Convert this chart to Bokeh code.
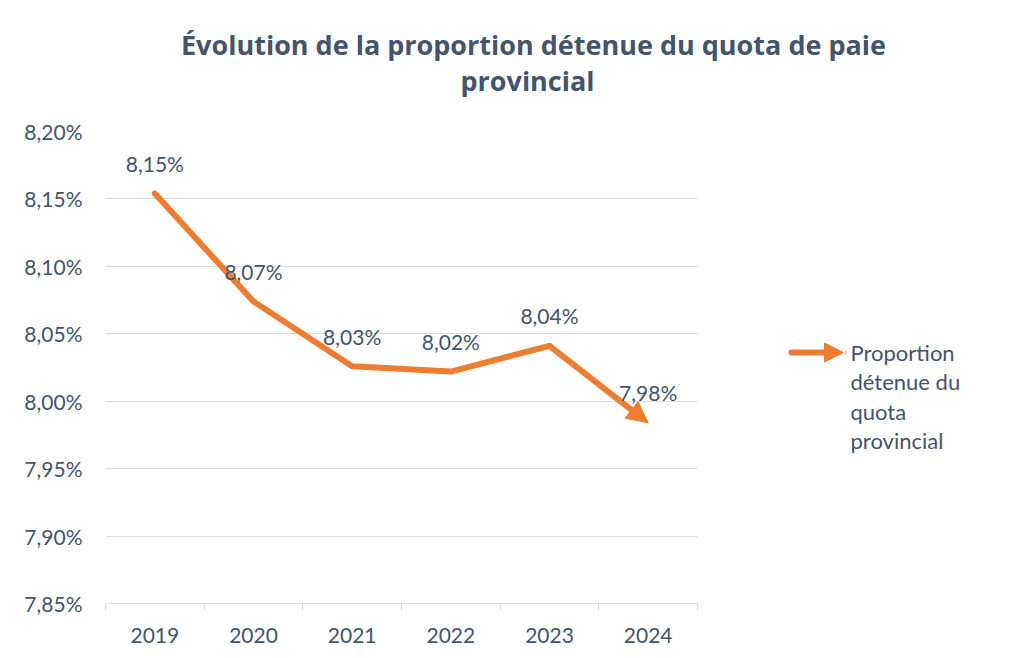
from bokeh.plotting import figure
from bokeh.layouts import column, row
from bokeh.models import (ColumnDataSource, LabelSet, Arrow, NormalHead,
                          FixedTicker, CustomJSTickFormatter, Range1d)
from bokeh.core.properties import value
from bokeh.embed import file_html
from bokeh.resources import INLINE

# ---- data ----
years = ["2019", "2020", "2021", "2022", "2023", "2024"]
proportion = [8.154, 8.074, 8.026, 8.022, 8.041, 7.984]
y_ticks = [7.85, 7.90, 7.95, 8.00, 8.05, 8.10, 8.15, 8.20]
series_name = ["Proportion", "détenue du", "quota", "provincial"]
title_lines = ["Évolution de la proportion détenue du quota de paie", "provincial"]

ORANGE = "#ED7D31"
TEXT = "#44546A"
GRID = "#D9DDE3"
FONT = "Lato"
TITLE_FONT = "Open Sans"

W, H = 1034, 658
TITLE_H = 110                 # height of title strip
MAIN_W = 717                  # width of main chart figure
# plot frame in page pixel coords
FL, FR, FT, FB = 105, 697, 131, 603
YMIN, YMAX = 7.85, 8.20
n = len(years)
xs = list(range(n))


def blank(width, height, x0, x1, y_top, y_bottom):
    f = figure(width=width, height=height, output_backend="svg",
               toolbar_location=None, x_range=Range1d(x0, x1),
               y_range=Range1d(y_bottom, y_top),
               x_axis_location=None, y_axis_location=None,
               min_border=0, min_border_left=0, min_border_right=0,
               min_border_top=0, min_border_bottom=0)
    f.xgrid.grid_line_color = None
    f.ygrid.grid_line_color = None
    f.outline_line_color = None
    f.background_fill_color = "white"
    f.border_fill_color = "white"
    return f


# ---------- title strip (page pixel coordinates, y downward) ----------
tf = blank(W, TITLE_H, 0, W, 0, TITLE_H)
tf.text(x=[533, 527], y=[44, 80], text=title_lines,
        text_align="center", text_baseline="middle",
        text_font=value(TITLE_FONT), text_font_style="bold",
        text_font_size=value("27px"), text_color=TEXT)

# ---------- main chart ----------
MH = H - TITLE_H
p = figure(width=MAIN_W, height=MH, output_backend="svg", toolbar_location=None,
           x_range=Range1d(-0.5, n - 0.5), y_range=Range1d(YMIN, YMAX),
           min_border_left=FL, min_border_right=MAIN_W - FR,
           min_border_top=FT - TITLE_H, min_border_bottom=H - FB)
p.outline_line_color = None
p.background_fill_color = "white"
p.border_fill_color = "white"

# x axis
p.xaxis.ticker = FixedTicker(ticks=xs, minor_ticks=[i - 0.5 for i in range(n + 1)])
p.xaxis.major_label_overrides = {i: years[i] for i in xs}
p.xaxis.major_tick_line_color = None
p.xaxis.major_tick_out = 0
p.xaxis.major_tick_in = 0
p.xaxis.minor_tick_line_color = GRID
p.xaxis.minor_tick_out = 7
p.xaxis.minor_tick_in = 0
p.xaxis.minor_tick_line_width = 1
p.xaxis.axis_line_color = GRID
p.xaxis.axis_line_width = 1
p.xaxis.major_label_standoff = 17
p.xaxis.major_label_text_font = FONT
p.xaxis.major_label_text_font_size = "21px"
p.xaxis.major_label_text_color = TEXT
p.xgrid.grid_line_color = None

# y axis
p.yaxis.ticker = FixedTicker(ticks=y_ticks)
p.yaxis.formatter = CustomJSTickFormatter(
    code="return tick.toFixed(2).replace('.', ',') + '%';")
p.yaxis.axis_line_color = None
p.yaxis.major_tick_line_color = None
p.yaxis.minor_tick_line_color = None
p.yaxis.major_tick_out = 0
p.yaxis.major_tick_in = 0
p.yaxis.major_label_standoff = 23
p.yaxis.major_label_text_font = FONT
p.yaxis.major_label_text_font_size = "21px"
p.yaxis.major_label_text_color = TEXT
p.ygrid.grid_line_color = GRID
p.ygrid.grid_line_width = 1

# line (all but last segment), last segment as arrow
p.line(xs[:-1], proportion[:-1], line_color=ORANGE, line_width=6,
       line_join="round", line_cap="round")
p.add_layout(Arrow(x_start=xs[-2], y_start=proportion[-2],
                   x_end=xs[-1], y_end=proportion[-1],
                   line_color=ORANGE, line_width=6,
                   end=NormalHead(size=21, fill_color=ORANGE, line_color=ORANGE,
                                  line_width=1)))

# data labels
labels = [f"{v:.2f}".replace(".", ",") + "%" for v in proportion]
src = ColumnDataSource(dict(x=xs, y=proportion, t=labels))
p.add_layout(LabelSet(x="x", y="y", text="t", source=src, y_offset=30,
                      text_align="center", text_baseline="middle",
                      text_font=value(FONT), text_font_size=value("21px"),
                      text_color=value(TEXT)))

# ---------- legend strip (page pixel coordinates, y downward) ----------
# in a row the frame of this figure is aligned with the main frame (FT..FB)
lf = blank(W - MAIN_W, MH, MAIN_W, W, FT, FB)
lf.add_layout(Arrow(x_start=791, y_start=352, x_end=843, y_end=352,
                    line_color=ORANGE, line_width=6, line_cap="round",
                    end=NormalHead(size=19, fill_color=ORANGE, line_color=ORANGE,
                                   line_width=1)))
lf.text(x=[850] * len(series_name), y=[352 + 29.3 * i for i in range(len(series_name))],
        text=series_name, text_align="left", text_baseline="middle",
        text_font=value(FONT), text_font_size=value("22px"), text_color=TEXT)

layout = column(tf, row(p, lf, spacing=0), spacing=0)
open("out.html", "w").write(file_html(layout, INLINE))
